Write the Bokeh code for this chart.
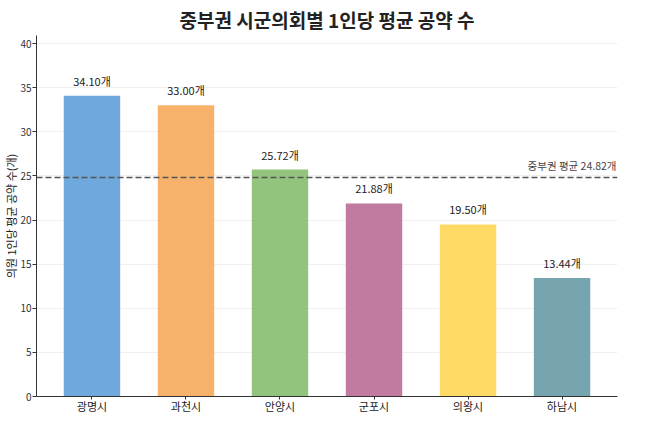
from bokeh.plotting import figure
from bokeh.models import ColumnDataSource, Span, Label, FixedTicker, Range1d
from bokeh.embed import file_html
from bokeh.resources import INLINE
from bokeh.core.properties import value

cities = ["광명시", "과천시", "안양시", "군포시", "의왕시", "하남시"]
pledges = [34.10, 33.00, 25.72, 21.88, 19.50, 13.44]
colors = ["#6fa8dc", "#f6b26b", "#93c47d", "#c27ba0", "#ffd966", "#76a5af"]
avg_value = 24.82
y_ticks = [0, 5, 10, 15, 20, 25, 30, 35, 40]

FONT = "Noto Sans CJK KR"

xs = list(range(len(cities)))
src = ColumnDataSource(dict(
    x=xs, top=pledges, color=colors,
    label=[f"{v:.2f}개" for v in pledges],
))

p = figure(frame_width=581, frame_height=361, output_backend="svg", toolbar_location=None,
           x_range=Range1d(-0.59, len(cities) - 1 + 0.59),
           y_range=Range1d(0, max(pledges) * 1.2),
           title="중부권 시군의회별 1인당 평균 공약 수",
           min_border_left=0, min_border_right=30, min_border_top=0, min_border_bottom=0)

p.title.text_font = FONT
p.title.text_font_size = "19px"
p.title.text_font_style = "bold"
p.title.text_color = "#222222"
p.title.align = "center"
p.title.offset = 0
p.title.standoff = 6

p.outline_line_color = None
p.xgrid.grid_line_color = None
p.ygrid.grid_line_color = "#000000"
p.ygrid.grid_line_alpha = 0.06
p.ygrid.ticker = FixedTicker(ticks=y_ticks)

p.vbar(x="x", top="top", width=0.6, bottom=0, color="color", source=src, line_color=None)

p.text(x="x", y="top", text="label", source=src, text_align="center",
       text_baseline="bottom", y_offset=-7, text_font=value(FONT),
       text_font_size="11px", text_color="#222222")

p.add_layout(Span(location=avg_value, dimension="width", line_color="#555555",
                  line_width=1.6, line_dash="6 3"))
p.add_layout(Label(x=len(cities) - 1 + 0.59, y=avg_value, text=f"중부권 평균 {avg_value:.2f}개",
                   text_align="right", text_baseline="bottom", y_offset=5, x_offset=-1,
                   text_font=FONT, text_font_size="10.5px", text_color="#444444"))

xa = p.xaxis[0]
xa.ticker = FixedTicker(ticks=xs)
xa.major_label_overrides = {i: c for i, c in enumerate(cities)}
xa.major_label_text_font = FONT
xa.major_label_text_font_size = "11px"
xa.major_label_text_color = "#222222"
xa.major_tick_in = 0
xa.major_tick_out = 3
xa.minor_tick_line_color = None
xa.major_label_standoff = -2
xa.axis_label = None
xa.axis_label_standoff = 0
xa.axis_line_color = "#333333"
xa.major_tick_line_color = "#333333"

ya = p.yaxis[0]
ya.ticker = FixedTicker(ticks=y_ticks)
ya.axis_label = "의원 1인당 평균 공약 수(개)"
ya.axis_label_text_font = FONT
ya.axis_label_text_font_size = "11px"
ya.axis_label_text_font_style = "normal"
ya.axis_label_text_color = "#222222"
ya.axis_label_standoff = -2
ya.major_label_text_font = FONT
ya.major_label_text_font_size = "10px"
ya.major_label_text_color = "#333333"
ya.major_tick_in = 0
ya.major_tick_out = 4
ya.minor_tick_line_color = None
ya.major_label_standoff = 1
ya.axis_line_color = "#333333"
ya.major_tick_line_color = "#333333"

open("out.html", "w").write(file_html(p, INLINE))
